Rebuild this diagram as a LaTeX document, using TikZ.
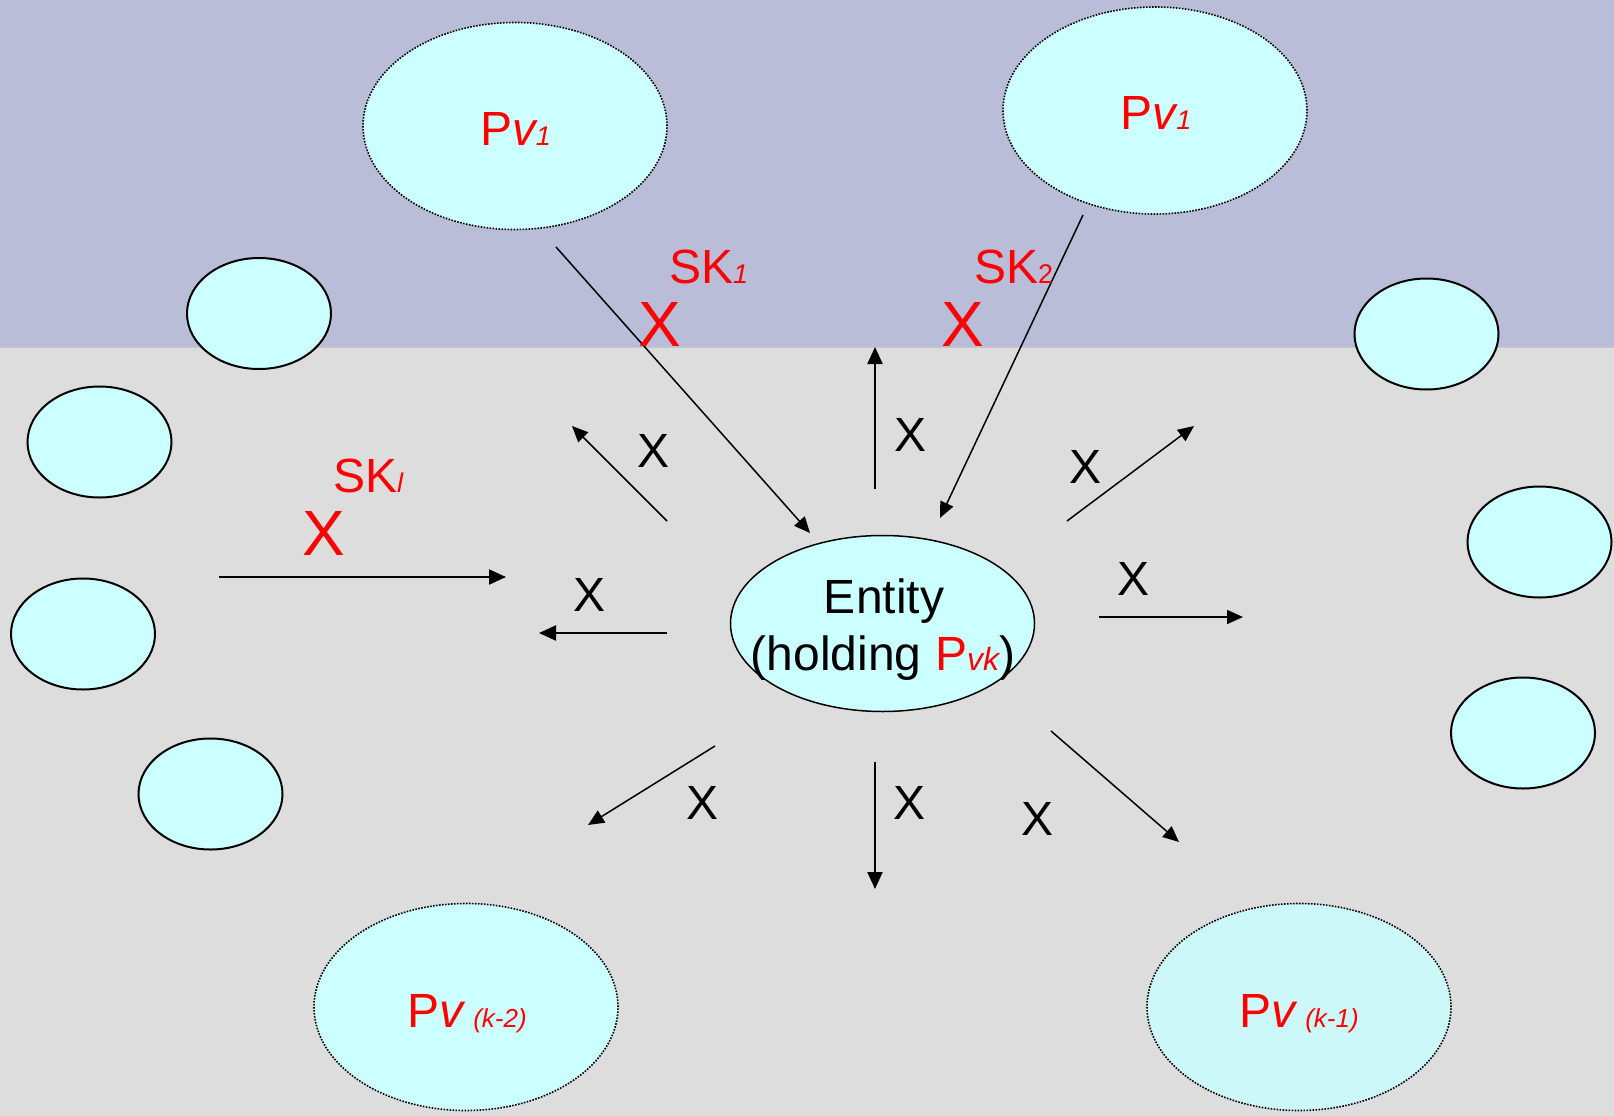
\documentclass[tikz,border=0pt]{standalone}
\usepackage{fontspec}
\setmainfont{Liberation Sans}
\usetikzlibrary{arrows.meta,shapes.geometric}
\definecolor{topband}{HTML}{B9BDD7}
\definecolor{lowband}{HTML}{DDDDDD}
\definecolor{cyanfill}{HTML}{CCFFFF}
\definecolor{cyanfillb}{HTML}{CCF8FA}
\definecolor{myred}{HTML}{FF0000}
\newcommand{\fsz}[1]{\fontsize{#1}{#1}\selectfont}
\begin{document}
\begin{tikzpicture}[x=1pt,y=-1pt,
  bigdot/.style={ellipse, draw=black, line width=1.6pt, dash pattern=on 1.6pt off 1.4pt,
    fill=cyanfill, inner sep=0pt, minimum width=304pt, minimum height=207pt},
  smallell/.style={ellipse, draw=black, line width=2pt, fill=cyanfill, inner sep=0pt,
    minimum width=144pt, minimum height=111pt},
  entell/.style={ellipse, draw=black, line width=1.5pt, fill=cyanfill, inner sep=0pt,
    minimum width=304pt, minimum height=176pt},
  arr/.style={line width=1.5pt, -{Triangle[length=16pt,width=14pt]}},
  arrb/.style={line width=2.2pt, -{Triangle[length=17pt,width=15pt]}},
  blx/.style={inner sep=0pt, font=\fsz{48}, text=black},
  rdx/.style={inner sep=0pt, font=\fsz{64}, text=myred},
  lbl/.style={inner sep=0pt, font=\fsz{48}, anchor=base},
  sklbl/.style={inner sep=0pt, font=\fsz{48}, text=myred, anchor=base west}
]
\useasboundingbox (0,0) rectangle (1614,1116);
% background
\fill[topband] (0,0) rectangle (1614,347);
\fill[lowband] (0,347) rectangle (1614,1116);
\draw[line width=0.8pt, color=black!22] (0,347) -- (1614,347);

% big dotted ellipses
\node[bigdot] (pvA) at (515,126) {};
\node[bigdot] (pvB) at (1155,110.5) {};
\node[bigdot] (pvC) at (466,1007) {};
\node[bigdot, fill=cyanfillb] (pvD) at (1299,1007) {};

% small ellipses
\node[smallell] (sa) at (259,313.5) {};
\node[smallell] (sb) at (99.5,442) {};
\node[smallell] (sc) at (83,634) {};
\node[smallell] (sd) at (210.5,794) {};
\node[smallell] (se) at (1426.5,334) {};
\node[smallell] (sf) at (1539.5,542) {};
\node[smallell] (sg) at (1523,733) {};

% entity
\node[entell] (ent) at (882.5,623.5) {};

% arrow end points
\coordinate (a1s) at (556,247);   \coordinate (a1e) at (810,533);
\coordinate (a2s) at (1083,215);  \coordinate (a2e) at (940,518);
\coordinate (a3s) at (875,489);   \coordinate (a3e) at (875,347);
\coordinate (a4s) at (667,521);   \coordinate (a4e) at (572,426);
\coordinate (a5s) at (1067,521);  \coordinate (a5e) at (1194,426);
\coordinate (a6s) at (667,633);   \coordinate (a6e) at (539,633);
\coordinate (a7s) at (1099,617);  \coordinate (a7e) at (1243,617);
\coordinate (a8s) at (219,577);   \coordinate (a8e) at (506,577);
\coordinate (a9s) at (715,746);   \coordinate (a9e) at (588,825);
\coordinate (a10s) at (875,762);  \coordinate (a10e) at (875,889);
\coordinate (a11s) at (1051,731); \coordinate (a11e) at (1179,842);

\draw[arr] (a1s) -- (a1e);
\draw[arr] (a2s) -- (a2e);
\draw[arrb] (a3s) -- (a3e);
\draw[arr] (a4s) -- (a4e);
\draw[arr] (a5s) -- (a5e);
\draw[arrb] (a6s) -- (a6e);
\draw[arr] (a7s) -- (a7e);
\draw[arrb] (a8s) -- (a8e);
\draw[arr] (a9s) -- (a9e);
\draw[arrb] (a10s) -- (a10e);
\draw[arr] (a11s) -- (a11e);

% black X labels
\node[blx] (x1) at (653.5,450.5) {X};
\node[blx] (x2) at (910,434.5) {X};
\node[blx] (x3) at (1085,466.5) {X};
\node[blx] (x4) at (589.5,594.5) {X};
\node[blx] (x5) at (1133.5,578.5) {X};
\node[blx] (x6) at (702,802.5) {X};
\node[blx] (x7) at (909,802.5) {X};
\node[blx] (x8) at (1037.5,819) {X};

% red X and SK labels
\node[rdx] (rx1) at (659.5,324) {X};
\node[rdx] (rx2) at (963,324) {X};
\node[rdx] (rx3) at (323.5,533) {X};
\node[sklbl] (sk1) at (669,283) {SK{\fsz{27}\itshape 1}};
\node[sklbl] (sk2) at (974,283) {SK{\fsz{27}2}};
\node[sklbl] (skl) at (333,492) {SK{\fsz{27}\itshape l}};

% Pv labels
\node[lbl, text=myred] (tA) at (515.5,145) {P{\fsz{47}\itshape v}{\fsz{27}\itshape 1}};
\node[lbl, text=myred] (tB) at (1156,129) {P{\fsz{47}\itshape v}{\fsz{27}\itshape 1}};
\node[lbl, text=myred] (tC) at (467,1027) {P{\fsz{48}\itshape v}\hspace{10pt}{\fsz{26}\itshape (k-2)}};
\node[lbl, text=myred] (tD) at (1299,1027) {P{\fsz{48}\itshape v}\hspace{10pt}{\fsz{26}\itshape (k-1)}};

% entity text
\node[lbl] (tE1) at (884,613) {Entity};
\node[lbl] (tE2) at (883,670) {(holding \textcolor{myred}{P{\fsz{32}\itshape vk}})};
\end{tikzpicture}
\end{document}
